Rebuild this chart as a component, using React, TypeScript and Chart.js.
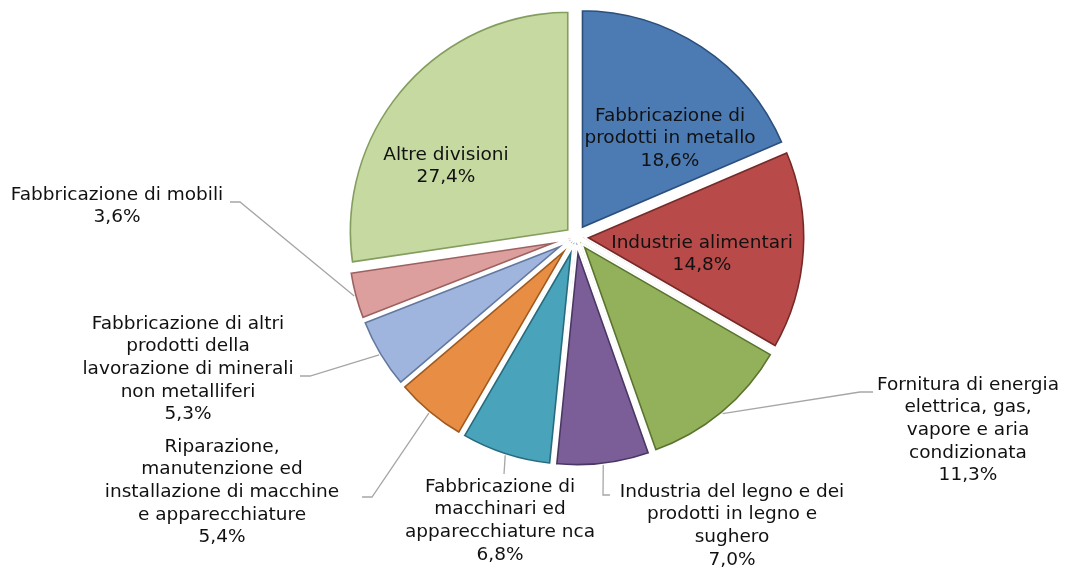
import React, { useEffect, useRef } from "react";
import { Chart, registerables } from "chart.js";

Chart.register(...registerables);

const categories = [
  "Fabbricazione di prodotti in metallo",
  "Industrie alimentari",
  "Fornitura di energia elettrica, gas, vapore e aria condizionata",
  "Industria del legno e dei prodotti in legno e sughero",
  "Fabbricazione di macchinari ed apparecchiature nca",
  "Riparazione, manutenzione ed installazione di macchine e apparecchiature",
  "Fabbricazione di altri prodotti della lavorazione di minerali non metalliferi",
  "Fabbricazione di mobili",
  "Altre divisioni",
];

const shares = [18.6, 14.8, 11.3, 7.0, 6.8, 5.4, 5.3, 3.6, 27.4];

const labelLines = [
  ["Fabbricazione di", "prodotti in metallo"],
  ["Industrie alimentari"],
  ["Fornitura di energia", "elettrica, gas,", "vapore e aria", "condizionata"],
  ["Industria del legno e dei", "prodotti in legno e", "sughero"],
  ["Fabbricazione di", "macchinari ed", "apparecchiature nca"],
  ["Riparazione,", "manutenzione ed", "installazione di macchine", "e apparecchiature"],
  ["Fabbricazione di altri", "prodotti della", "lavorazione di minerali", "non metalliferi"],
  ["Fabbricazione di mobili"],
  ["Altre divisioni"],
];

const fillColors = [
  "#4c7bb4",
  "#b84b49",
  "#93b15a",
  "#7b5e98",
  "#48a3bb",
  "#e88d44",
  "#a0b5de",
  "#dd9f9e",
  "#c5d9a0",
];

const edgeColors = [
  "#2c4f7c",
  "#762a28",
  "#5a742f",
  "#4a3763",
  "#276b7d",
  "#a05a20",
  "#63789f",
  "#9c6260",
  "#849e5f",
];

// label layout: text centre x, first line centre y, leader elbow & end (null = inside)
const labelLayout = [
  { x: 670, y: 116, leader: null },
  { x: 702, y: 243, leader: null },
  { x: 968, y: 385, leader: [860, 392, 873, 392] },
  { x: 732, y: 492, leader: [603, 495, 610, 495] },
  { x: 500, y: 487, leader: [504, 474, 504, 474] },
  { x: 222, y: 447, leader: [372, 497, 362, 497] },
  { x: 188, y: 324, leader: [310, 376, 300, 376] },
  { x: 117, y: 195, leader: [240, 202, 230, 202] },
  { x: 446, y: 155, leader: null },
];

const EXPLODE = 8.5; // px distance each slice is pulled out
const GAP = 1.0; // white margin per slice side
const EDGE = 1.6; // dark edge width
const FONT = '18.5px "DejaVu Sans", Verdana, sans-serif';
const LINE_H = 22.6;

const fmt = (v: number) => v.toFixed(1).replace(".", ",") + "%";

const total = shares.reduce((a, b) => a + b, 0);

// Chart.js translates an arc by offset/4 * (1 + fix); invert so every slice moves EXPLODE px
const offsetFor = (ctx: any) => {
  const v = shares[ctx.dataIndex] ?? 0;
  const circ = (v / total) * Math.PI * 2;
  const fix = 1 - Math.sin(Math.min(Math.PI, circ));
  return (4 * EXPLODE) / (1 + fix);
};

const slicePath = (ctx: CanvasRenderingContext2D, arc: any) => {
  const mid = (arc.startAngle + arc.endAngle) / 2;
  const cx = arc.x + Math.cos(mid) * EXPLODE;
  const cy = arc.y + Math.sin(mid) * EXPLODE;
  ctx.beginPath();
  ctx.moveTo(cx, cy);
  ctx.arc(cx, cy, arc.outerRadius, arc.startAngle, arc.endAngle);
  ctx.closePath();
};

const edgePlugin = {
  id: "sliceEdges",
  afterDatasetsDraw(chart: any) {
    const ctx = chart.ctx;
    const arcs = chart.getDatasetMeta(0).data;
    ctx.save();
    ctx.lineJoin = "round";
    arcs.forEach((arc: any, i: number) => {
      ctx.save();
      slicePath(ctx, arc);
      ctx.clip();
      slicePath(ctx, arc);
      ctx.strokeStyle = edgeColors[i];
      ctx.lineWidth = 2 * (GAP + EDGE);
      ctx.stroke();
      ctx.restore();
    });
    arcs.forEach((arc: any) => {
      slicePath(ctx, arc);
      ctx.strokeStyle = "#ffffff";
      ctx.lineWidth = 2 * GAP;
      ctx.stroke();
    });
    ctx.restore();
  },
};

const labelPlugin = {
  id: "pieLabels",
  afterDatasetsDraw(chart: any) {
    const ctx = chart.ctx;
    const meta = chart.getDatasetMeta(0);
    ctx.save();
    meta.data.forEach((arc: any, i: number) => {
      const lay = labelLayout[i];
      if (lay.leader) {
        const mid = (arc.startAngle + arc.endAngle) / 2;
        const r = arc.outerRadius + EXPLODE;
        const ax = arc.x + Math.cos(mid) * r;
        const ay = arc.y + Math.sin(mid) * r;
        ctx.strokeStyle = "#a6a6a6";
        ctx.lineWidth = 1.3;
        ctx.beginPath();
        ctx.moveTo(ax, ay);
        ctx.lineTo(lay.leader[0], lay.leader[1]);
        ctx.lineTo(lay.leader[2], lay.leader[3]);
        ctx.stroke();
      }
      const lines = [...labelLines[i], fmt(shares[i])];
      ctx.font = FONT;
      ctx.fillStyle = "#111111";
      ctx.textAlign = "center";
      ctx.textBaseline = "middle";
      lines.forEach((t, k) => {
        ctx.fillText(t, lay.x, lay.y + k * LINE_H);
      });
    });
    ctx.restore();
  },
};

export default function App() {
  const ref = useRef<HTMLCanvasElement | null>(null);
  useEffect(() => {
    document.body.style.margin = "0";
    const canvas = ref.current;
    if (!canvas) return;
    const chart = new Chart(canvas, {
      type: "pie",
      data: {
        labels: categories,
        datasets: [
          {
            data: shares,
            backgroundColor: fillColors,
            borderWidth: 0,
            offset: offsetFor,
          },
        ],
      },
      options: {
        responsive: false,
        animation: false,
        devicePixelRatio: 1,
        radius: 221,
        layout: { padding: { left: 87, right: 0, top: 0, bottom: 95 } },
        plugins: {
          legend: { display: false },
          tooltip: { enabled: false },
        },
      } as any,
      plugins: [edgePlugin, labelPlugin],
    });
    return () => chart.destroy();
  }, []);
  return (
    <div style={{ width: 1065, height: 569, background: "#ffffff" }}>
      <canvas ref={ref} width={1065} height={569} style={{ display: "block" }} />
    </div>
  );
}
